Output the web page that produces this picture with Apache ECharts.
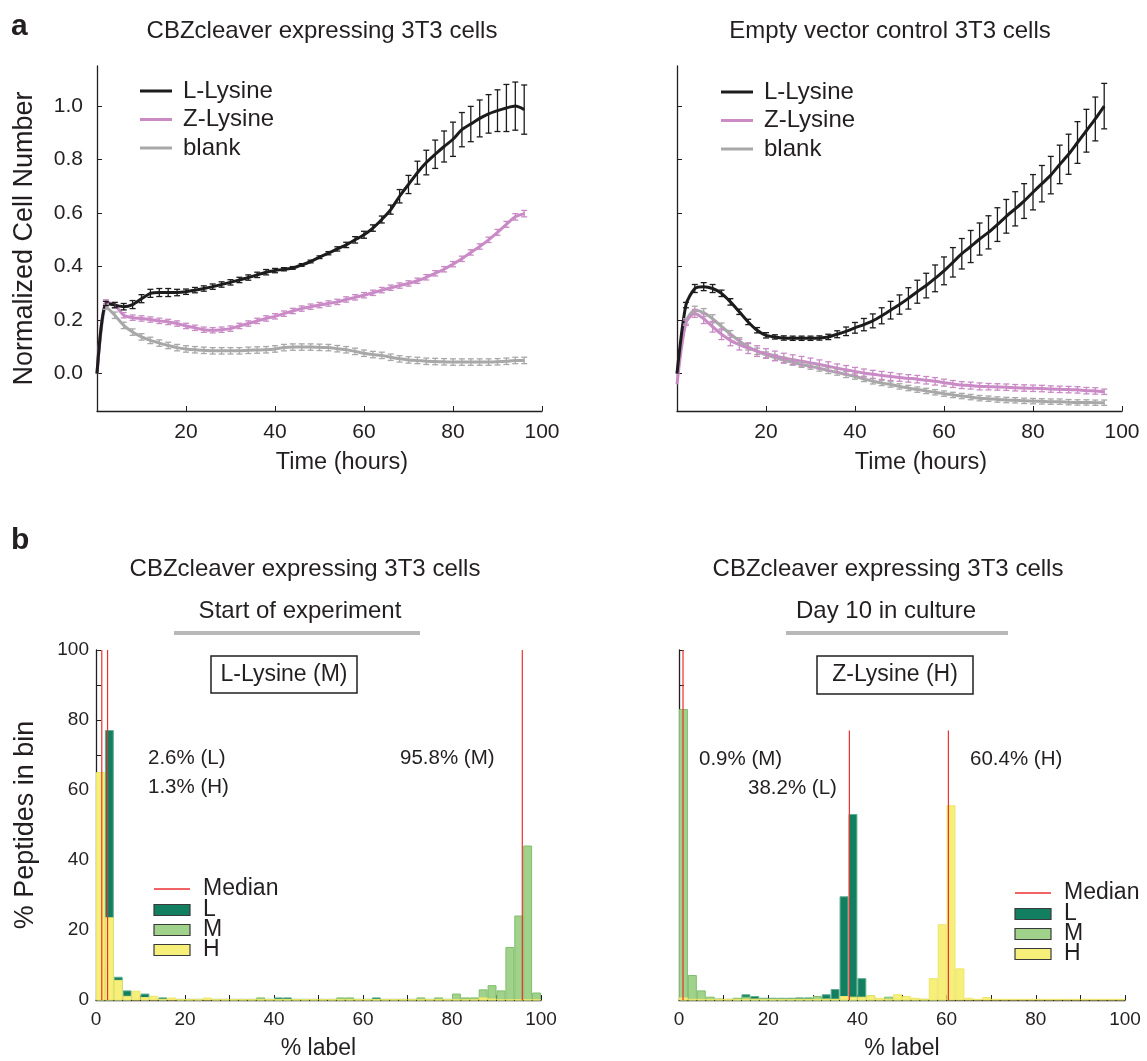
<!DOCTYPE html>
<html>
<head>
<meta charset="utf-8">
<title>CBZcleaver 3T3 growth and labelling</title>
<script src="https://cdn.jsdelivr.net/npm/echarts@6/dist/echarts.min.js"></script>
<style>
  html, body { margin: 0; padding: 0; background: #ffffff; }
  #chart { width: 1147px; height: 1061px; }
</style>
</head>
<body>
<div id="chart"></div>
<script>
// ---------- panel a: growth curves (time in hours, normalized cell number) ----------
const hours = [0, 2, 4, 6, 8, 10, 12, 14, 16, 18, 20, 22, 24, 26, 28, 30, 32, 34, 36, 38,
  40, 42, 44, 46, 48, 50, 52, 54, 56, 58, 60, 62, 64, 66, 68, 70, 72, 74, 76, 78,
  80, 82, 84, 86, 88, 90, 92, 94, 96];

const growthTicks = [0.0, 0.2, 0.4, 0.6, 0.8, 1.0];
const timeTicks = [20, 40, 60, 80, 100];

// CBZcleaver expressing cells
const cbzLLysine = [0.00, 0.262, 0.256, 0.25, 0.258, 0.28, 0.30, 0.303, 0.303, 0.303, 0.306, 0.312, 0.318, 0.325, 0.333, 0.341, 0.35, 0.359, 0.369, 0.379,
  0.385, 0.39, 0.395, 0.406, 0.419, 0.435, 0.45, 0.466, 0.481, 0.50, 0.519, 0.544, 0.576, 0.613, 0.663, 0.707, 0.751, 0.789, 0.82, 0.849,
  0.876, 0.912, 0.933, 0.954, 0.971, 0.983, 0.993, 1.0, 0.987];
const cbzLLysineErr = [0, 0.008, 0.01, 0.012, 0.015, 0.015, 0.015, 0.015, 0.015, 0.012, 0.01, 0.01, 0.01, 0.01, 0.01, 0.01, 0.01, 0.01, 0.01, 0.01,
  0.008, 0.006, 0.005, 0.005, 0.005, 0.005, 0.006, 0.008, 0.01, 0.012, 0.013, 0.012, 0.013, 0.017, 0.025, 0.034, 0.043, 0.046, 0.053, 0.058,
  0.064, 0.064, 0.066, 0.069, 0.072, 0.078, 0.088, 0.09, 0.092];
const cbzZLysine = [0.00, 0.268, 0.256, 0.218, 0.209, 0.206, 0.202, 0.197, 0.193, 0.187, 0.178, 0.171, 0.164, 0.162, 0.164, 0.168, 0.178, 0.187, 0.197, 0.206,
  0.214, 0.224, 0.234, 0.243, 0.25, 0.256, 0.262, 0.268, 0.277, 0.285, 0.293, 0.302, 0.312, 0.321, 0.329, 0.337, 0.347, 0.36, 0.375, 0.39,
  0.409, 0.429, 0.453, 0.475, 0.50, 0.528, 0.558, 0.586, 0.598];
const cbzZLysineErr = [0, 0.008, 0.01, 0.01, 0.01, 0.01, 0.01, 0.01, 0.01, 0.01, 0.01, 0.01, 0.01, 0.01, 0.01, 0.01, 0.01, 0.01, 0.01, 0.01,
  0.01, 0.01, 0.01, 0.01, 0.01, 0.01, 0.01, 0.01, 0.01, 0.01, 0.01, 0.01, 0.01, 0.01, 0.01, 0.01, 0.01, 0.01, 0.01, 0.01,
  0.01, 0.01, 0.01, 0.01, 0.01, 0.011, 0.011, 0.012, 0.012];
const cbzBlank = [0.00, 0.25, 0.218, 0.18, 0.155, 0.137, 0.124, 0.114, 0.105, 0.097, 0.092, 0.089, 0.087, 0.085, 0.085, 0.085, 0.085, 0.087, 0.088, 0.089,
  0.092, 0.097, 0.099, 0.099, 0.099, 0.098, 0.097, 0.093, 0.089, 0.083, 0.076, 0.071, 0.068, 0.061, 0.055, 0.051, 0.049, 0.046, 0.045, 0.044,
  0.043, 0.043, 0.043, 0.043, 0.043, 0.044, 0.046, 0.049, 0.049];
const cbzBlankErr = [0, 0.01, 0.012, 0.012, 0.012, 0.012, 0.012, 0.012, 0.012, 0.012, 0.012, 0.012, 0.012, 0.012, 0.012, 0.012, 0.012, 0.012, 0.012, 0.012,
  0.012, 0.012, 0.012, 0.012, 0.012, 0.012, 0.012, 0.012, 0.012, 0.012, 0.012, 0.012, 0.012, 0.012, 0.012, 0.012, 0.012, 0.012, 0.012, 0.012,
  0.012, 0.012, 0.012, 0.012, 0.012, 0.012, 0.012, 0.012, 0.012];

// Empty vector control cells
const ctlLLysine = [0.00, 0.256, 0.318, 0.325, 0.318, 0.30, 0.268, 0.231, 0.193, 0.162, 0.143, 0.137, 0.133, 0.132, 0.132, 0.132, 0.133, 0.137, 0.147, 0.158,
  0.171, 0.183, 0.197, 0.216, 0.237, 0.258, 0.281, 0.306, 0.329, 0.356, 0.384, 0.416, 0.448, 0.475, 0.503, 0.528, 0.557, 0.588, 0.616, 0.645,
  0.678, 0.71, 0.742, 0.782, 0.82, 0.864, 0.908, 0.952, 1.0];
const ctlLLysineErr = [0, 0.01, 0.015, 0.015, 0.015, 0.012, 0.012, 0.01, 0.01, 0.01, 0.01, 0.008, 0.008, 0.008, 0.008, 0.008, 0.008, 0.01, 0.013, 0.016,
  0.02, 0.023, 0.026, 0.03, 0.033, 0.036, 0.04, 0.043, 0.046, 0.05, 0.052, 0.055, 0.057, 0.06, 0.06, 0.062, 0.063, 0.063, 0.064, 0.065,
  0.066, 0.068, 0.07, 0.072, 0.075, 0.078, 0.08, 0.082, 0.085];
const ctlZLysine = [-0.04, 0.19, 0.225, 0.205, 0.175, 0.147, 0.124, 0.108, 0.095, 0.084, 0.075, 0.066, 0.058, 0.052, 0.046, 0.04, 0.034, 0.027, 0.02, 0.014,
  0.008, 0.002, -0.003, -0.007, -0.011, -0.015, -0.018, -0.021, -0.025, -0.029, -0.034, -0.039, -0.043, -0.045, -0.048, -0.049, -0.05, -0.051, -0.053, -0.054,
  -0.055, -0.056, -0.058, -0.059, -0.06, -0.061, -0.064, -0.065, -0.068];
const ctlZLysineErr = [0, 0.01, 0.015, 0.018, 0.02, 0.02, 0.02, 0.02, 0.02, 0.02, 0.018, 0.018, 0.018, 0.018, 0.018, 0.018, 0.017, 0.017, 0.016, 0.016,
  0.015, 0.015, 0.015, 0.015, 0.015, 0.014, 0.014, 0.014, 0.014, 0.014, 0.013, 0.013, 0.013, 0.013, 0.013, 0.012, 0.012, 0.012, 0.012, 0.012,
  0.012, 0.012, 0.012, 0.012, 0.012, 0.012, 0.012, 0.012, 0.01];
const ctlBlank = [0.00, 0.195, 0.237, 0.228, 0.205, 0.176, 0.148, 0.122, 0.10, 0.083, 0.07, 0.06, 0.05, 0.042, 0.034, 0.027, 0.02, 0.011, 0.005, -0.004,
  -0.011, -0.02, -0.029, -0.035, -0.041, -0.048, -0.054, -0.06, -0.065, -0.07, -0.075, -0.08, -0.084, -0.088, -0.092, -0.094, -0.097, -0.099, -0.10, -0.102,
  -0.103, -0.104, -0.105, -0.105, -0.107, -0.108, -0.108, -0.109, -0.109];
const ctlBlankErr = [0, 0.01, 0.015, 0.015, 0.015, 0.013, 0.013, 0.012, 0.012, 0.012, 0.011, 0.011, 0.011, 0.011, 0.011, 0.011, 0.011, 0.011, 0.011, 0.011,
  0.01, 0.01, 0.01, 0.01, 0.01, 0.01, 0.01, 0.01, 0.01, 0.01, 0.01, 0.01, 0.01, 0.01, 0.01, 0.01, 0.01, 0.01, 0.01, 0.01,
  0.01, 0.01, 0.01, 0.01, 0.01, 0.01, 0.01, 0.01, 0.01];

// ---------- panel b: label histograms (% label, 2 % bins) ----------
const binEdges = [0, 2, 4, 6, 8, 10, 12, 14, 16, 18, 20, 22, 24, 26, 28, 30, 32, 34, 36, 38,
  40, 42, 44, 46, 48, 50, 52, 54, 56, 58, 60, 62, 64, 66, 68, 70, 72, 74, 76, 78,
  80, 82, 84, 86, 88, 90, 92, 94, 96, 98];
const pctTicks = [0, 10, 20, 30, 40, 50, 60, 70, 80, 90, 100];
const pctLabels = [0, 20, 40, 60, 80, 100];

// Start of experiment, L-Lysine (M) medium
const startL = [9, 77, 6.5, 2.6, 0, 1.7, 0, 0.6, 0, 0, 0, 0, 0, 0, 0, 0, 0, 0, 0, 0,
  0.6, 0.6, 0, 0, 0, 0, 0, 0, 0, 0, 0, 0.6, 0, 0, 0, 0, 0, 0, 0, 0,
  0, 0, 0, 0, 0, 0, 0, 0, 0, 0];
const startM = [0, 0, 0, 0, 0, 0, 0, 0, 0, 0.2, 0.2, 0.2, 0, 0.2, 0.2, 0.2, 0.2, 0.2, 0.6, 0.2,
  0.2, 0.2, 0.2, 0.2, 0.2, 0.2, 0.2, 0.6, 0.6, 0.2, 0.2, 0.2, 0.2, 0.2, 0.2, 0.2, 0.6, 0.2, 0.6, 0.2,
  1.7, 0.6, 0.6, 2.9, 4.1, 2.6, 15, 24, 44, 2.0];
const startH = [65, 23.5, 5.6, 1.05, 2.5, 0.7, 1.05, 0.2, 0.57, 0.1, 0.1, 0.1, 0.57, 0.1, 0.1, 0.1, 0.1, 0.1, 0.1, 0.1,
  0.1, 0.1, 0.1, 0.1, 0.1, 0.1, 0.1, 0.1, 0.1, 0.1, 0.1, 0.1, 0.1, 0.1, 0.1, 0.1, 0.1, 0.1, 0.1, 0.1,
  0.1, 0.1, 0.1, 0.6, 0.3, 0.1, 0.1, 0.1, 0.1, 0.1];
const startMedianLabels = ['L', 'H', 'M'];
const startMedianValues = [2.6, 1.3, 95.8];
const startMedianTops = [100, 100, 100];

// Day 10 in culture, Z-Lysine (H) medium
const day10L = [0, 0, 0, 0, 0, 0, 0.3, 1.5, 1.0, 0.5, 0.5, 0.5, 0.5, 0.6, 0.6, 0.6, 1.5, 3.0, 29.5, 53,
  6.1, 0, 0, 0, 0, 0, 0, 0, 0, 0, 0, 0, 0, 0, 0, 0, 0, 0, 0, 0,
  0, 0, 0, 0, 0, 0, 0, 0, 0, 0];
const day10M = [83, 7, 2.6, 0.8, 0.3, 0.2, 0.5, 0.8, 0.3, 0.2, 0.2, 0.2, 0.2, 0.3, 0.3, 1.0, 0.3, 0.2, 0.2, 0.2,
  0.2, 1.2, 0.2, 0.8, 0.2, 0.2, 0.2, 0.2, 0.2, 0.2, 0, 0, 0, 0, 0, 0, 0, 0, 0, 0,
  0, 0, 0, 0, 0, 0, 0, 0, 0, 0];
const day10H = [0.6, 0.2, 0.2, 0.2, 0.2, 0.2, 0.2, 0.2, 0.2, 0.2, 0.2, 0.2, 0.2, 0.2, 0.2, 0.2, 0.2, 0.2, 1.0, 0.8,
  0.8, 1.2, 0.5, 0.2, 1.5, 1.0, 0.5, 0.2, 6.1, 21.5, 55.5, 8.9, 0.5, 0.2, 0.7, 0.2, 0.2, 0.2, 0.2, 0.2,
  0.2, 0.2, 0.2, 0.2, 0.2, 0.2, 0.2, 0.2, 0.2, 0.2];
const day10MedianLabels = ['M', 'L', 'H'];
const day10MedianValues = [0.9, 38.2, 60.4];
const day10MedianTops = [100, 77, 77];

// ---------- styling ----------
const FONT = '"Liberation Sans", Arial, Helvetica, sans-serif';
const INK = '#231f20';
const COLOR_L_LYS = '#1c1c1c';
const COLOR_Z_LYS = '#c98ac6';
const COLOR_BLANK = '#a8a8a8';
const FILL = { L: '#127f61', M: '#a0d28c', H: '#f6f07a' };
const EDGE = { L: '#5fae93', M: '#7fbf6c', H: '#eee56a' };
const MEDIAN_RED = '#ee2f2f';

const chart = echarts.init(document.getElementById('chart'), null, { renderer: 'canvas' });

const gridRects = [
  { left: 97, top: 66, width: 445, height: 345 },
  { left: 677, top: 66, width: 445, height: 345 },
  { left: 96, top: 650, width: 445, height: 351 },
  { left: 679, top: 650, width: 446, height: 352 }
];

const axisLineStyle = { color: INK, width: 1.3 };
const tickStyle = { color: INK, width: 1 };

function timeAxis(gridIndex) {
  return {
    gridIndex, type: 'value', min: 0, max: 100,
    axisLine: { show: true, onZero: false, lineStyle: axisLineStyle },
    axisTick: { show: true, inside: true, length: 5, lineStyle: tickStyle, customValues: timeTicks },
    axisLabel: { show: true, customValues: timeTicks, fontSize: 21, fontFamily: FONT, color: INK, margin: 11 },
    splitLine: { show: false }
  };
}
function growthAxis(gridIndex, withLabels) {
  return {
    gridIndex, type: 'value', min: -0.14, max: 1.15,
    axisLine: { show: true, onZero: false, lineStyle: axisLineStyle },
    axisTick: { show: true, inside: true, length: 5, lineStyle: tickStyle, customValues: growthTicks },
    axisLabel: {
      show: withLabels, customValues: growthTicks, formatter: v => v.toFixed(1),
      fontSize: 21, fontFamily: FONT, color: INK, margin: 14
    },
    splitLine: { show: false },
    name: withLabels ? 'Normalized Cell Number' : '', nameLocation: 'middle', nameGap: 59,
    nameTextStyle: { fontSize: 27, fontFamily: FONT, color: INK }
  };
}
function pctAxis(gridIndex) {
  return {
    gridIndex, type: 'value', min: 0, max: 100,
    axisLine: { show: true, onZero: false, lineStyle: axisLineStyle },
    axisTick: { show: true, inside: true, length: 5, lineStyle: tickStyle, customValues: pctTicks },
    axisLabel: { show: true, customValues: pctLabels, fontSize: 19, fontFamily: FONT, color: INK, margin: 10 },
    splitLine: { show: false },
    name: '% label', nameLocation: 'middle', nameGap: 37,
    nameTextStyle: { fontSize: 23, fontFamily: FONT, color: INK }
  };
}
function peptideAxis(gridIndex, withLabels) {
  return {
    gridIndex, type: 'value', min: 0, max: 100,
    axisLine: { show: true, onZero: false, lineStyle: axisLineStyle },
    axisTick: { show: true, inside: true, length: 5, lineStyle: tickStyle, customValues: pctTicks },
    axisLabel: { show: withLabels, customValues: pctLabels, fontSize: 19, fontFamily: FONT, color: INK, margin: 7 },
    splitLine: { show: false },
    name: withLabels ? '% Peptides in bin' : '', nameLocation: 'middle', nameGap: 57,
    nameTextStyle: { fontSize: 27, fontFamily: FONT, color: INK }
  };
}

// growth line + its error bars
function growthSeries(name, axisIdx, values, errors, color) {
  const line = {
    name, type: 'line', xAxisIndex: axisIdx, yAxisIndex: axisIdx,
    data: hours.map((t, i) => [t, values[i]]),
    showSymbol: false, symbol: 'none', smooth: 0.25,
    lineStyle: { color, width: 3 }, itemStyle: { color },
    animation: false, z: 3
  };
  const bars = {
    name: name + ' SEM', type: 'custom', xAxisIndex: axisIdx, yAxisIndex: axisIdx,
    data: hours.map((t, i) => [t, values[i] - errors[i], values[i] + errors[i]]).filter((d, i) => errors[i] > 0),
    encode: { x: 0, y: [1, 2] },
    renderItem(params, api) {
      const x = api.value(0);
      const lo = api.coord([x, api.value(1)]);
      const hi = api.coord([x, api.value(2)]);
      const cap = 3;
      const st = { stroke: color, lineWidth: 1.3 };
      return {
        type: 'group', children: [
          { type: 'line', shape: { x1: hi[0], y1: hi[1], x2: lo[0], y2: lo[1] }, style: st },
          { type: 'line', shape: { x1: hi[0] - cap, y1: hi[1], x2: hi[0] + cap, y2: hi[1] }, style: st },
          { type: 'line', shape: { x1: lo[0] - cap, y1: lo[1], x2: lo[0] + cap, y2: lo[1] }, style: st }
        ]
      };
    },
    animation: false, silent: true, z: 4
  };
  return [line, bars];
}

// histogram drawn as rectangles spanning each bin
function histSeries(name, axisIdx, values, key, z) {
  const binWidth = binEdges[1] - binEdges[0];
  return {
    name, type: 'custom', xAxisIndex: axisIdx, yAxisIndex: axisIdx,
    data: binEdges.map((b, i) => [b, values[i]]),
    encode: { x: 0, y: 1 },
    renderItem(params, api) {
      const x0 = api.value(0);
      const v = api.value(1);
      if (!(v > 0)) return null;
      const top = api.coord([x0, v]);
      const base = api.coord([x0 + binWidth, 0]);
      return {
        type: 'rect',
        shape: { x: top[0] + 0.5, y: top[1], width: base[0] - top[0] - 1, height: base[1] - top[1] },
        style: { fill: FILL[key], stroke: EDGE[key], lineWidth: 1 }
      };
    },
    animation: false, silent: true, z
  };
}

function medianSeries(axisIdx, values, tops) {
  return {
    name: 'Median', type: 'custom', xAxisIndex: axisIdx, yAxisIndex: axisIdx,
    data: values.map((v, i) => [v, tops[i]]),
    encode: { x: 0, y: 1 },
    renderItem(params, api) {
      const x = api.value(0);
      const a = api.coord([x, 0]);
      const b = api.coord([x, api.value(1)]);
      return {
        type: 'line',
        shape: { x1: a[0], y1: a[1], x2: b[0], y2: b[1] },
        style: { stroke: MEDIAN_RED, lineWidth: 1.2 }
      };
    },
    animation: false, silent: true, z: 6
  };
}

// ---------- annotation / decoration graphics ----------
function text(str, x, y, size, opts) {
  return {
    type: 'text', x, y, silent: true,
    style: Object.assign({
      text: str, fontSize: size, fontFamily: FONT, fill: INK,
      textAlign: 'left', textVerticalAlign: 'middle'
    }, (opts && opts.style) || {})
  };
}
function centered(str, x, y, size) {
  return text(str, x, y, size, { style: { textAlign: 'center' } });
}
function histLegend(x, y) {
  const items = [];
  items.push({ type: 'line', silent: true, shape: { x1: x, y1: y, x2: x + 36, y2: y }, style: { stroke: MEDIAN_RED, lineWidth: 1.5 } });
  items.push(text('Median', x + 49, y, 23));
  ['L', 'M', 'H'].forEach((k, i) => {
    const cy = y + 21 + i * 20;
    items.push({
      type: 'rect', silent: true,
      shape: { x: x, y: cy - 5.5, width: 36, height: 11 },
      style: { fill: FILL[k], stroke: '#3a3a3a', lineWidth: 1.2 }
    });
    items.push(text(k, x + 49, cy, 23));
  });
  return items;
}
function medianText(labels, values, i) {
  return values[i].toFixed(1) + '% (' + labels[i] + ')';
}

const graphics = [
  text('a', 11, 27, 30, { style: { fontWeight: 'bold' } }),
  text('b', 11, 541, 30, { style: { fontWeight: 'bold' } }),
  centered('CBZcleaver expressing 3T3 cells', 322, 31, 24),
  centered('Empty vector control 3T3 cells', 890, 31, 24),
  centered('Time (hours)', 342, 463, 23.5),
  centered('Time (hours)', 921, 463, 23.5),
  centered('CBZcleaver expressing 3T3 cells', 305, 569, 24),
  centered('CBZcleaver expressing 3T3 cells', 888, 569, 24),
  centered('Start of experiment', 300, 611, 24),
  centered('Day 10 in culture', 886, 611, 24),
  { type: 'rect', silent: true, shape: { x: 174, y: 631, width: 246, height: 4 }, style: { fill: '#b8b8b8' } },
  { type: 'rect', silent: true, shape: { x: 786, y: 631, width: 222, height: 4 }, style: { fill: '#b8b8b8' } },
  { type: 'rect', silent: true, shape: { x: 211, y: 656, width: 146, height: 37 }, style: { fill: '#fff', stroke: INK, lineWidth: 1.5 } },
  centered('L-Lysine (M)', 284, 675, 23),
  { type: 'rect', silent: true, shape: { x: 817, y: 656, width: 156, height: 38 }, style: { fill: '#fff', stroke: INK, lineWidth: 1.5 } },
  centered('Z-Lysine (H)', 895, 675, 23),
  text(medianText(startMedianLabels, startMedianValues, 0), 148, 758, 20.5),
  text(medianText(startMedianLabels, startMedianValues, 1), 148, 787, 20.5),
  text(medianText(startMedianLabels, startMedianValues, 2), 400, 758, 20.5),
  text(medianText(day10MedianLabels, day10MedianValues, 0), 699, 759, 20.5),
  text(medianText(day10MedianLabels, day10MedianValues, 1), 748, 788, 20.5),
  text(medianText(day10MedianLabels, day10MedianValues, 2), 970, 759, 20.5)
].concat(histLegend(154, 889), histLegend(1015, 893));
graphics.forEach(g => { g.z = 11; });

const legendCommon = {
  orient: 'vertical', icon: 'rect', itemWidth: 32, itemHeight: 3, itemGap: 4.5,
  data: ['L-Lysine', 'Z-Lysine', 'blank'],
  textStyle: { fontSize: 24, fontFamily: FONT, color: INK, padding: [0, 0, 0, 6] },
  selectedMode: false
};

const option = {
  backgroundColor: '#ffffff',
  animation: false,
  textStyle: { fontFamily: FONT },
  grid: gridRects.map(r => Object.assign({ containLabel: false }, r)),
  xAxis: [timeAxis(0), timeAxis(1), pctAxis(2), pctAxis(3)],
  yAxis: [growthAxis(0, true), growthAxis(1, false), peptideAxis(2, true), peptideAxis(3, false)],
  legend: [
    Object.assign({ left: 135, top: 74 }, legendCommon),
    Object.assign({ left: 716, top: 75 }, legendCommon)
  ],
  series: [].concat(
    growthSeries('blank', 0, cbzBlank, cbzBlankErr, COLOR_BLANK),
    growthSeries('Z-Lysine', 0, cbzZLysine, cbzZLysineErr, COLOR_Z_LYS),
    growthSeries('L-Lysine', 0, cbzLLysine, cbzLLysineErr, COLOR_L_LYS),
    growthSeries('blank', 1, ctlBlank, ctlBlankErr, COLOR_BLANK),
    growthSeries('Z-Lysine', 1, ctlZLysine, ctlZLysineErr, COLOR_Z_LYS),
    growthSeries('L-Lysine', 1, ctlLLysine, ctlLLysineErr, COLOR_L_LYS),
    [
      histSeries('L', 2, startL, 'L', 2),
      histSeries('M', 2, startM, 'M', 3),
      histSeries('H', 2, startH, 'H', 4),
      medianSeries(2, startMedianValues, startMedianTops),
      histSeries('L', 3, day10L, 'L', 2),
      histSeries('M', 3, day10M, 'M', 3),
      histSeries('H', 3, day10H, 'H', 4),
      medianSeries(3, day10MedianValues, day10MedianTops)
    ]
  ),
  graphic: { elements: graphics }
};

chart.setOption(option);
</script>
</body>
</html>
